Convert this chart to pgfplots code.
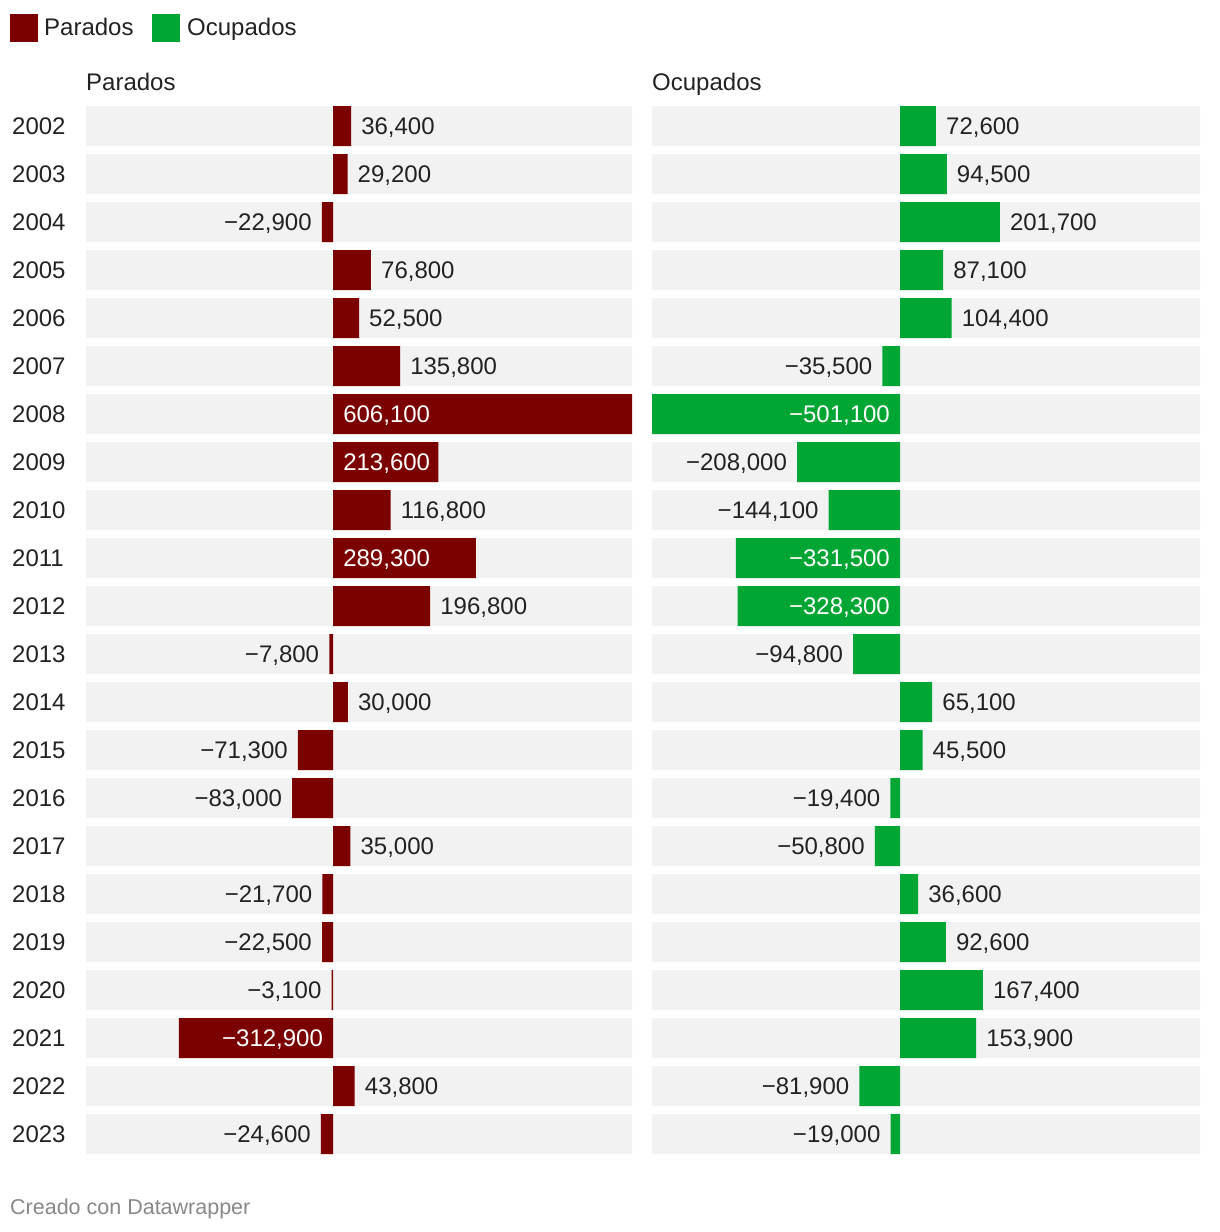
\documentclass[border=0pt]{standalone}
\usepackage{fontspec}
\setmainfont{Liberation Sans}
\usepackage{pgfplots}
\pgfplotsset{compat=1.18}
\definecolor{paro}{HTML}{7B0000}
\definecolor{ocup}{HTML}{00A633}
\definecolor{bgrow}{HTML}{F2F2F2}
\definecolor{txt}{HTML}{222222}
\definecolor{foot}{HTML}{888888}
\newcommand{\fs}{\fontsize{24bp}{28bp}\selectfont}
\pgfplotsset{
  panel/.style={
    scale only axis, height=1056bp,
    xmin=-501100, xmax=606100, ymin=-0.5, ymax=21.5, y dir=reverse,
    axis line style={draw=none}, tick style={draw=none},
    xtick=\empty, ytick=\empty, clip=false,
    title style={at={(0,1)}, anchor=base west, yshift=6bp, inner sep=0pt, font=\fs, text=txt},
  },
  bg/.style={xbar, bar width=40bp, bar shift=0pt, fill=bgrow, draw=none, forget plot},
  bars/.style={xbar, bar width=40bp, bar shift=0pt, fill=#1, draw=none, forget plot},
  lab/.style={draw=none, mark=none, forget plot, nodes near coords, point meta=explicit symbolic,
    nodes near coords align={anchor=#1},
    every node near coord/.append style={anchor=#1, inner sep=0pt, yshift=-8.5bp, font=\fs, text=txt}},
  posout/.style={lab=base west, every node near coord/.append style={xshift=10bp}},
  negout/.style={lab=base east, every node near coord/.append style={xshift=-10bp}},
  posin/.style={lab=base west, every node near coord/.append style={xshift=10bp, text=white}},
  negin/.style={lab=base east, every node near coord/.append style={xshift=-10bp, text=white}},
}
\begin{document}
\begin{tikzpicture}
\useasboundingbox (0,0) rectangle (1220bp,-1232bp);
% legend
\fill[paro] (10bp,-14bp) rectangle (38bp,-42bp);
\node[anchor=base west, inner sep=0pt, font=\fs, text=txt] at (44bp,-35bp) {Parados};
\fill[ocup] (152bp,-14bp) rectangle (180bp,-42bp);
\node[anchor=base west, inner sep=0pt, font=\fs, text=txt] at (187bp,-35bp) {Ocupados};
% footer
\node[anchor=base west, inner sep=0pt, font=\fontsize{21.5bp}{26bp}\selectfont, text=foot] at (10bp,-1214bp) {Creado con Datawrapper};

\begin{axis}[panel, width=546bp, at={(86bp,-102bp)}, anchor=north west, title={Parados},
  ytick={0,...,21},
  yticklabels={2002,2003,2004,2005,2006,2007,2008,2009,2010,2011,2012,2013,2014,2015,2016,2017,2018,2019,2020,2021,2022,2023},
  yticklabel style={anchor=base west, inner sep=0pt, xshift=-74bp, yshift=-8.5bp, font=\fs, text=txt}]
\addplot[bg] coordinates {(606100,0)(606100,1)(606100,2)(606100,3)(606100,4)(606100,5)(606100,6)(606100,7)(606100,8)(606100,9)(606100,10)(606100,11)(606100,12)(606100,13)(606100,14)(606100,15)(606100,16)(606100,17)(606100,18)(606100,19)(606100,20)(606100,21)};
\addplot[bg] coordinates {(-501100,0)(-501100,1)(-501100,2)(-501100,3)(-501100,4)(-501100,5)(-501100,6)(-501100,7)(-501100,8)(-501100,9)(-501100,10)(-501100,11)(-501100,12)(-501100,13)(-501100,14)(-501100,15)(-501100,16)(-501100,17)(-501100,18)(-501100,19)(-501100,20)(-501100,21)};
\addplot[bars=paro] coordinates {(36400,0)(29200,1)(-22900,2)(76800,3)(52500,4)(135800,5)(606100,6)(213600,7)(116800,8)(289300,9)(196800,10)(-7800,11)(30000,12)(-71300,13)(-83000,14)(35000,15)(-21700,16)(-22500,17)(-3100,18)(-312900,19)(43800,20)(-24600,21)};
\addplot[posout] coordinates {(36400,0)[36,400] (29200,1)[29,200] (76800,3)[76,800] (52500,4)[52,500] (135800,5)[135,800] (116800,8)[116,800] (196800,10)[196,800] (30000,12)[30,000] (35000,15)[35,000] (43800,20)[43,800]};
\addplot[negout] coordinates {(-22900,2)[−22,900] (-7800,11)[−7,800] (-71300,13)[−71,300] (-83000,14)[−83,000] (-21700,16)[−21,700] (-22500,17)[−22,500] (-3100,18)[−3,100] (-24600,21)[−24,600]};
\addplot[posin] coordinates {(0,6)[606,100] (0,7)[213,600] (0,9)[289,300]};
\addplot[negin] coordinates {(0,19)[−312,900]};
\end{axis}

\begin{axis}[panel, width=548bp, at={(652bp,-102bp)}, anchor=north west, title={Ocupados}]
\addplot[bg] coordinates {(606100,0)(606100,1)(606100,2)(606100,3)(606100,4)(606100,5)(606100,6)(606100,7)(606100,8)(606100,9)(606100,10)(606100,11)(606100,12)(606100,13)(606100,14)(606100,15)(606100,16)(606100,17)(606100,18)(606100,19)(606100,20)(606100,21)};
\addplot[bg] coordinates {(-501100,0)(-501100,1)(-501100,2)(-501100,3)(-501100,4)(-501100,5)(-501100,6)(-501100,7)(-501100,8)(-501100,9)(-501100,10)(-501100,11)(-501100,12)(-501100,13)(-501100,14)(-501100,15)(-501100,16)(-501100,17)(-501100,18)(-501100,19)(-501100,20)(-501100,21)};
\addplot[bars=ocup] coordinates {(72600,0)(94500,1)(201700,2)(87100,3)(104400,4)(-35500,5)(-501100,6)(-208000,7)(-144100,8)(-331500,9)(-328300,10)(-94800,11)(65100,12)(45500,13)(-19400,14)(-50800,15)(36600,16)(92600,17)(167400,18)(153900,19)(-81900,20)(-19000,21)};
\addplot[posout] coordinates {(72600,0)[72,600] (94500,1)[94,500] (201700,2)[201,700] (87100,3)[87,100] (104400,4)[104,400] (65100,12)[65,100] (45500,13)[45,500] (36600,16)[36,600] (92600,17)[92,600] (167400,18)[167,400] (153900,19)[153,900]};
\addplot[negout] coordinates {(-35500,5)[−35,500] (-208000,7)[−208,000] (-144100,8)[−144,100] (-94800,11)[−94,800] (-19400,14)[−19,400] (-50800,15)[−50,800] (-81900,20)[−81,900] (-19000,21)[−19,000]};
\addplot[negin] coordinates {(0,6)[−501,100] (0,9)[−331,500] (0,10)[−328,300]};
\end{axis}
\end{tikzpicture}
\end{document}
